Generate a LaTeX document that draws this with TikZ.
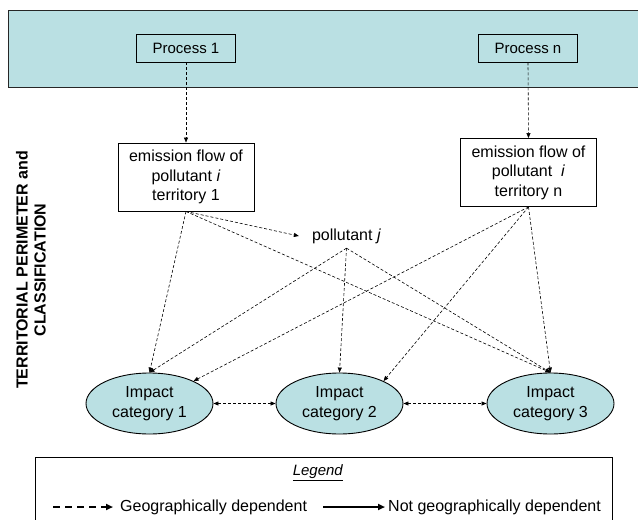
\documentclass[tikz,border=0pt]{standalone}
\usepackage{fontspec}
\setmainfont{Liberation Sans}
\usetikzlibrary{arrows.meta,shapes.geometric}
\definecolor{tealfill}{RGB}{186,224,227}
\begin{document}
\begin{tikzpicture}[x=1pt,y=-1pt,
  txt/.style={font=\fontsize{16}{19.5}\selectfont, align=center},
  procbox/.style={draw, line width=0.9pt, fill=tealfill, minimum width=99pt, minimum height=28pt, inner sep=0pt, font=\fontsize{15}{18}\selectfont},
  embox/.style={draw, line width=0.9pt, fill=white, txt, minimum width=136pt, minimum height=68pt, inner sep=0pt},
  impact/.style={ellipse, draw, line width=0.9pt, fill=tealfill, txt, minimum width=127pt, minimum height=61pt, inner sep=0pt},
  conn/.style={line width=0.6pt, dash pattern=on 3pt off 2pt, -{Triangle[length=5pt,width=4pt]}},
  dconn/.style={line width=0.6pt, dash pattern=on 3pt off 2pt, {Triangle[length=5pt,width=4pt]}-{Triangle[length=5pt,width=4pt]}},
  legdash/.style={line width=2pt, dash pattern=on 7pt off 5pt, -{Triangle[length=7pt,width=6pt]}},
  legsolid/.style={line width=2pt, -{Triangle[length=7pt,width=6pt]}}
]
\useasboundingbox (0,0) rectangle (638,520);
\clip (0,0) rectangle (638,520);
% band
\draw[fill=tealfill, line width=1pt, draw=black!85] (8,10) rectangle (660,87);
% process boxes
\node[procbox] (p1) at (186,48) {Process 1};
\node[procbox] (p2) at (528,48) {Process n};
% emission boxes
\node[embox] (e1) at (186,177) {emission flow of\\pollutant \textit{i}\\territory 1};
\node[embox] (e2) at (528.5,172.5) {emission flow of\\pollutant \ \textit{i}\\territory n};
% pollutant j
\node[txt, inner xsep=13pt, inner ysep=4.5pt] (pj) at (346.5,236) {pollutant \textit{j}};
% impact categories
\node[impact] (i1) at (149.5,403.5) {Impact\\category 1};
\node[impact] (i2) at (339.5,403.5) {Impact\\category 2};
\node[impact] (i3) at (550.5,403.5) {Impact\\category 3};
% side label
\node[rotate=90, font=\bfseries\fontsize{16}{18}\selectfont, align=center] (side) at (31,270) {TERRITORIAL PERIMETER and\\CLASSIFICATION};
% connectors
\draw[conn] (p1.south) -- (e1.north);
\draw[conn] (p2.south) -- (e2.north);
\draw[conn] (e1.south) -- (pj.west);
\draw[conn] (e1.south) -- (i1.north);
\draw[conn] (e1.south) -- (i3.north);
\draw[conn] (pj.south) -- (i1.north);
\draw[conn] (pj.south) -- (i2.north);
\draw[conn] (pj.south) -- (i3.north);
\draw[conn] (e2.south) -- (i1.27);
\draw[conn] (e2.south) -- (i2.27);
\draw[conn] (e2.south) -- (i3.north);
\draw[dconn] (i1.east) -- (i2.west);
\draw[dconn] (i2.east) -- (i3.west);
% legend
\draw[line width=1pt] (35,457) rectangle (612,530);
\node[font=\fontsize{15}{18}\selectfont] (legtitle) at (318,473) {\underline{\textit{Legend}}};
\coordinate (ld1) at (53,507);
\coordinate (ld2) at (113,507);
\coordinate (ls1) at (323,507);
\coordinate (ls2) at (385,507);
\draw[legdash] (ld1) -- (ld2);
\draw[legsolid] (ls1) -- (ls2);
\node[txt, anchor=west, inner sep=0pt] (legd) at (120,507) {Geographically dependent};
\node[txt, anchor=west, inner sep=0pt] (legs) at (388,507) {Not geographically dependent};
\end{tikzpicture}
\end{document}
